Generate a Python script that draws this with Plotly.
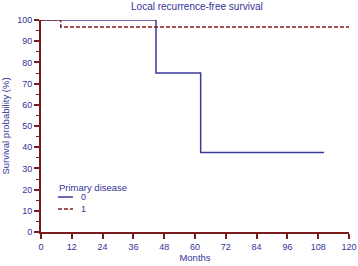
import plotly.graph_objects as go

# Kaplan-Meier step data
months_0 = [0, 44.8, 62.2, 110.3]
surv_0 = [100, 75, 37.5, 37.5]
months_1 = [0, 7.7, 120]
surv_1 = [100, 96.7, 96.7]
x_ticks = [0, 12, 24, 36, 48, 60, 72, 84, 96, 108, 120]
y_ticks = [0, 10, 20, 30, 40, 50, 60, 70, 80, 90, 100]
legend_title = "Primary disease"
group_names = ["0", "1"]

BLUE = "#3a3a9a"
TXT = "#333399"
AX = "#7a1c1c"
RED = "#8b1a1a"
DASH = "4px,2px"

fig = go.Figure()
fig.add_trace(go.Scatter(x=months_0, y=surv_0, mode="lines", line=dict(shape="hv", color=BLUE, width=1.5), name=group_names[0]))
fig.add_trace(go.Scatter(x=months_1, y=surv_1, mode="lines", line=dict(shape="hv", color=RED, width=1.5, dash=DASH), name=group_names[1]))

font = dict(family="Liberation Sans, Arial, sans-serif", size=9, color=TXT)

# custom compact legend
fig.add_annotation(text=legend_title, xref="paper", yref="paper", x=0.052, y=0.212, xanchor="left", yanchor="middle",
                   showarrow=False, font=dict(size=9.5, color=TXT))
for i, (name, col, dash, yy) in enumerate([(group_names[0], BLUE, "solid", 0.165), (group_names[1], RED, DASH, 0.108)]):
    fig.add_shape(type="line", xref="paper", yref="paper", x0=0.055, x1=0.104, y0=yy, y1=yy,
                  line=dict(color=col, width=1.5, dash=dash))
    fig.add_annotation(text=name, xref="paper", yref="paper", x=0.122, y=yy, xanchor="left", yanchor="middle",
                       showarrow=False, font=dict(size=9, color=TXT))

fig.update_layout(
    width=358, height=266,
    margin=dict(l=41, r=9, t=20, b=34, autoexpand=False),
    paper_bgcolor="white", plot_bgcolor="white",
    font=font,
    title=dict(text="Local recurrence-free survival", x=0.55, xanchor="center", y=0.988, yanchor="top", font=dict(size=10, color=TXT)),
    showlegend=False,
    xaxis=dict(range=[0, 120], tickvals=x_ticks, showline=True, linecolor=AX, linewidth=2, ticks="outside", ticklen=5,
               tickcolor=AX, tickwidth=2, showgrid=False, zeroline=False, automargin=False,
               title=dict(text="Months", standoff=2, font=dict(size=9.5, color=TXT)),
               tickfont=font),
    yaxis=dict(range=[0, 100], tickvals=y_ticks, showline=True, linecolor=AX, linewidth=2, ticks="outside", ticklen=5,
               tickcolor=AX, tickwidth=2, showgrid=False, zeroline=False, automargin=False,
               title=dict(text="Survival probability (%)", standoff=6, font=dict(size=9.5, color=TXT)),
               tickfont=font, minor=dict(dtick=5, ticks="outside", ticklen=3, tickcolor=AX, tickwidth=1)),
)
fig.write_html("out.html", config={"displayModeBar": False},
               post_script="document.body.style.margin='0';document.body.style.overflow='hidden';")
